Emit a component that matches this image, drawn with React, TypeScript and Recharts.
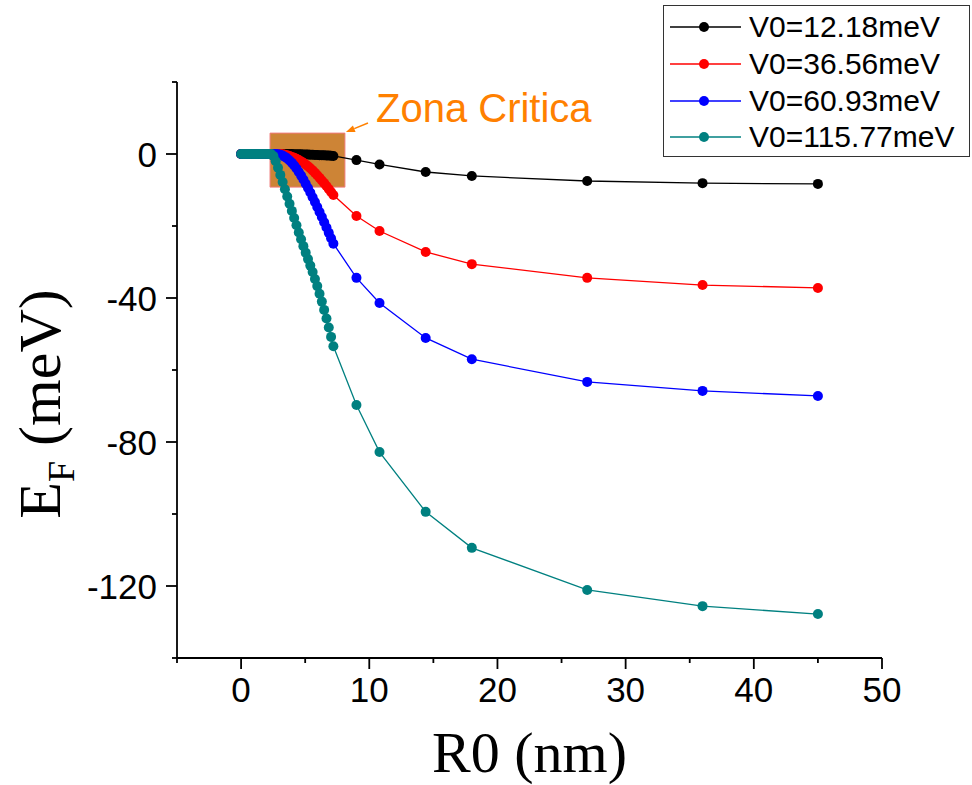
import React from "react";
import {
  LineChart,
  Line,
  XAxis,
  YAxis,
  ReferenceArea,
  ReferenceLine,
  Legend,
} from "recharts";

// R0 (nm): dense sweep up to 7.2, then the sparse points
const R0 = [
  0, 0.18, 0.36, 0.54, 0.72, 0.9, 1.08, 1.26, 1.44, 1.62, 1.8, 1.98, 2.16, 2.34,
  2.52, 2.7, 2.88, 3.06, 3.24, 3.42, 3.6, 3.78, 3.96, 4.14, 4.32, 4.5, 4.68,
  4.86, 5.04, 5.22, 5.4, 5.58, 5.76, 5.94, 6.12, 6.3, 6.48, 6.66, 6.84, 7.02,
  7.2, 9, 10.8, 14.4, 18, 27, 36, 45,
];

// E_F (meV) for each V0
const EF_12 = [
  0, 0, 0, 0, 0, 0, 0, 0, 0, 0, 0, 0, 0, 0, 0, 0, 0, 0, 0, 0, -0.01, -0.02,
  -0.03, -0.04, -0.06, -0.08, -0.1, -0.12, -0.14, -0.17, -0.2, -0.23, -0.26,
  -0.29, -0.32, -0.35, -0.38, -0.41, -0.45, -0.5, -0.55, -1.7, -2.9, -5.0, -6.1,
  -7.5, -8.1, -8.3,
];
const EF_36 = [
  0, 0, 0, 0, 0, 0, 0, 0, 0, 0, 0, 0, 0, 0, 0, 0, 0, -0.03, -0.1, -0.2, -0.35,
  -0.55, -0.8, -1.05, -1.35, -1.7, -2.05, -2.45, -2.9, -3.4, -3.95, -4.55, -5.2,
  -5.9, -6.6, -7.35, -8.1, -8.9, -9.7, -10.55, -11.4, -17.2, -21.4, -27.2,
  -30.6, -34.4, -36.4, -37.2,
];
const EF_60 = [
  0, 0, 0, 0, 0, 0, 0, 0, 0, 0, 0, 0, 0, 0, 0, 0, -0.05, -0.2, -0.45, -0.8,
  -1.25, -1.8, -2.45, -3.2, -4.05, -5.0, -6.0, -7.1, -8.25, -9.45, -10.7, -12.0,
  -13.35, -14.7, -16.1, -17.5, -18.95, -20.4, -21.9, -23.4, -24.9, -34.4, -41.4,
  -51.1, -57.0, -63.3, -65.8, -67.2,
];
const EF_115 = [
  0, 0, 0, 0, 0, 0, 0, 0, 0, 0, 0, 0, 0, 0, -0.6, -2.0, -3.8, -5.8, -7.8, -9.8,
  -11.8, -13.8, -15.8, -17.8, -19.8, -21.8, -23.7, -25.6, -27.4, -29.2, -31.0,
  -32.8, -34.7, -36.7, -38.8, -41.0, -43.3, -45.7, -48.2, -50.8, -53.4, -69.7,
  -82.8, -99.4, -109.4, -121.1, -125.6, -127.8,
];

const SERIES = [
  { key: "v12", name: "V0=12.18meV", color: "#000000", values: EF_12 },
  { key: "v36", name: "V0=36.56meV", color: "#ff0000", values: EF_36 },
  { key: "v60", name: "V0=60.93meV", color: "#0000ff", values: EF_60 },
  { key: "v115", name: "V0=115.77meV", color: "#008080", values: EF_115 },
];

const X_TICKS = [-5, 0, 5, 10, 15, 20, 25, 30, 35, 40, 45, 50];
const Y_TICKS = [20, 0, -20, -40, -60, -80, -100, -120, -140];

// critical zone box
const ZONE_X = [2.26, 8.1];
const ZONE_Y = [-9.2, 5.8];
const ARROW_FROM = { x: 9.9, y: 8.6 };
const ARROW_TO = { x: 8.18, y: 6.1 };

const rows = R0.map((r, i) => {
  const row: Record<string, number> = { r0: r };
  SERIES.forEach((s) => (row[s.key] = s.values[i]));
  return row;
});

const SANS = "Liberation Sans, Arial, sans-serif";
const SERIF = "Liberation Serif, Times New Roman, serif";
const AX = { stroke: "#000", strokeWidth: 1.8 };

function BottomTick({ x, y, payload }: any) {
  const major = payload.value % 10 === 0;
  return (
    <g>
      <line x1={x} x2={x} y1={y} y2={y + (major ? 11 : 5)} {...AX} />
      {major && (
        <text x={x} y={y + 44} textAnchor="middle" fontSize={35} fontFamily={SANS} fill="#000">
          {payload.value}
        </text>
      )}
    </g>
  );
}

function LeftTick({ x, y, payload }: any) {
  const major = payload.value % 40 === 0;
  return (
    <g>
      <line x1={x} x2={x - (major ? 11 : 5)} y1={y} y2={y} {...AX} />
      {major && (
        <text x={x - 20} y={y} dy="0.36em" textAnchor="end" fontSize={35} fontFamily={SANS} fill="#000">
          {payload.value}
        </text>
      )}
    </g>
  );
}

function TopTick({ x, y, payload }: any) {
  const major = payload.value % 10 === 0;
  return <line x1={x} x2={x} y1={y} y2={y + (major ? 10 : 6)} {...AX} />;
}

function RightTick({ x, y, payload }: any) {
  const major = payload.value % 40 === 0;
  return <line x1={x} x2={x - (major ? 10 : 6)} y1={y} y2={y} {...AX} />;
}

function ArrowShape({ x1, y1, x2, y2 }: any) {
  const dx = x2 - x1;
  const dy = y2 - y1;
  const len = Math.sqrt(dx * dx + dy * dy);
  const ux = dx / len;
  const uy = dy / len;
  const bx = x2 - ux * 9;
  const by = y2 - uy * 9;
  const pts = `${x2},${y2} ${bx - uy * 3.5},${by + ux * 3.5} ${bx + uy * 3.5},${by - ux * 3.5}`;
  return (
    <g>
      <line x1={x1} y1={y1} x2={bx} y2={by} stroke="#ff8000" strokeWidth={1.5} />
      <polygon points={pts} fill="#ff8000" />
      <text x={x1 + 8} y={y1 - 1} fontSize={40} fontFamily={SANS} fill="#ff8000">
        Zona Critica
      </text>
    </g>
  );
}

function LegendBox({ payload }: any) {
  const items = SERIES.map((s) => (payload || []).find((p: any) => p.value === s.name)).filter(Boolean);
  return (
    <div
      style={{
        width: 307,
        height: 152,
        boxSizing: "border-box",
        border: "1.5px solid #333",
        background: "#fff",
        paddingTop: 3,
      }}
    >
      {items.map((p: any) => (
        <div
          key={p.value}
          style={{ height: 36.7, display: "flex", alignItems: "center" }}
        >
          <svg width={85} height={20} style={{ flex: "none" }}>
            <line x1={6} x2={77} y1={10} y2={10} stroke={p.color} strokeWidth={1.5} />
            <circle cx={40} cy={10} r={5} fill={p.color} />
          </svg>
          <span style={{ fontFamily: SANS, fontSize: 30, color: "#000", whiteSpace: "nowrap" }}>
            {p.value}
          </span>
        </div>
      ))}
    </div>
  );
}

export default function App() {
  return (
    <div style={{ position: "absolute", left: 0, top: 0, width: 972, height: 785, background: "#fff" }}>
      <LineChart width={972} height={785} data={rows} margin={{ top: 82, right: 90, bottom: 0, left: 0 }}>
        <XAxis
          xAxisId="b"
          dataKey="r0"
          type="number"
          domain={[-5, 50]}
          ticks={X_TICKS}
          interval={0}
          allowDataOverflow
          height={127}
          tickSize={0}
          tickMargin={0}
          tickLine={false}
          axisLine={AX}
          tick={<BottomTick />}
          label={{
            content: ({ viewBox }: any) => (
              <text
                x={viewBox.x + viewBox.width / 2}
                y={viewBox.y + 114}
                textAnchor="middle"
                fontSize={58}
                fontFamily={SERIF}
                fill="#000"
              >
                R0 (nm)
              </text>
            ),
          }}
        />
        <XAxis
          xAxisId="t"
          orientation="top"
          type="number"
          domain={[-5, 50]}
          ticks={X_TICKS}
          interval={0}
          allowDataOverflow
          height={0}
          tickSize={0}
          tickMargin={0}
          tickLine={false}
          axisLine={AX}
          tick={<TopTick />}
        />
        <YAxis
          yAxisId="l"
          type="number"
          domain={[-140, 20]}
          ticks={Y_TICKS}
          interval={0}
          allowDataOverflow
          width={177}
          tickSize={0}
          tickMargin={0}
          tickLine={false}
          axisLine={AX}
          tick={<LeftTick />}
          label={{
            content: ({ viewBox }: any) => {
              const cx = viewBox.x + 60;
              const cy = viewBox.y + viewBox.height / 2 + 34;
              return (
                <text
                  transform={`translate(${cx},${cy}) rotate(-90)`}
                  textAnchor="middle"
                  fontSize={60}
                  fontFamily={SERIF}
                  fill="#000"
                >
                  E
                  <tspan fontSize={38} dy={14}>F</tspan>
                  <tspan dy={-14}> (meV)</tspan>
                </text>
              );
            },
          }}
        />
        <YAxis
          yAxisId="r"
          orientation="right"
          type="number"
          domain={[-140, 20]}
          ticks={Y_TICKS}
          interval={0}
          allowDataOverflow
          width={0}
          tickSize={0}
          tickMargin={0}
          tickLine={false}
          axisLine={AX}
          tick={<RightTick />}
        />
        <ReferenceArea
          xAxisId="b"
          yAxisId="l"
          x1={ZONE_X[0]}
          x2={ZONE_X[1]}
          y1={ZONE_Y[0]}
          y2={ZONE_Y[1]}
          fill="#cd8436"
          fillOpacity={1}
          stroke="#f07a7a"
          strokeWidth={1}
          ifOverflow="visible"
        />
        <ReferenceLine
          xAxisId="b"
          yAxisId="l"
          segment={[ARROW_FROM, ARROW_TO]}
          shape={ArrowShape}
          ifOverflow="visible"
        />
        {SERIES.map((s) => (
          <Line
            key={s.key}
            xAxisId="b"
            yAxisId="l"
            dataKey={s.key}
            name={s.name}
            type="linear"
            stroke={s.color}
            strokeWidth={1.3}
            dot={{ r: 5, fill: s.color, stroke: "none" }}
            activeDot={false}
            isAnimationActive={false}
          />
        ))}
        <Legend
          layout="vertical"
          align="center"
          verticalAlign="middle"
          itemSorter={null as any}
          content={<LegendBox />}
          wrapperStyle={{ position: "absolute", left: 663, top: 5, width: 307, height: 152 }}
        />
      </LineChart>
    </div>
  );
}
